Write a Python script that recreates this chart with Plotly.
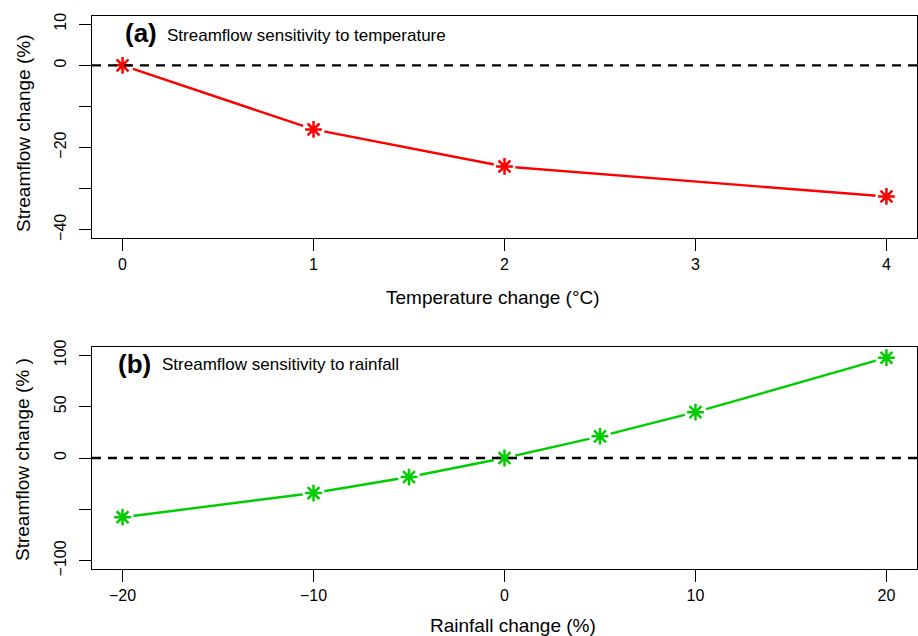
import plotly.graph_objects as go
from plotly.subplots import make_subplots

# Panel (a): temperature sensitivity
temp_change = [0, 1, 2, 4]
flow_temp = [0.0, -15.6, -24.6, -31.9]
temp_ticks = [0, 1, 2, 3, 4]
temp_yticks = [10, 0, -10, -20, -30, -40]
temp_yticklabels = ["10", "0", "", "\u221220", "", "\u221240"]

# Panel (b): rainfall sensitivity
rain_change = [-20, -10, -5, 0, 5, 10, 20]
flow_rain = [-57.6, -34.1, -18.5, 0.0, 21.1, 44.6, 97.6]
rain_ticks = [-20, -10, 0, 10, 20]
rain_ticklabels = ["\u221220", "\u221210", "0", "10", "20"]
rain_yticks = [100, 50, 0, -50, -100]
rain_yticklabels = ["100", "50", "0", "", "\u2212100"]

FONT = "Liberation Sans, Arial, Helvetica, sans-serif"
RED = "#FF0000"
GREEN = "#00CD00"

fig = make_subplots(rows=2, cols=1)

def add_series(x, y, color, row):
    fig.add_trace(go.Scatter(x=x, y=y, mode="lines", line=dict(color=color, width=2.4),
                             hoverinfo="skip", showlegend=False), row=row, col=1)
    # white discs to imitate R's type="b" gaps around points
    fig.add_trace(go.Scatter(x=x, y=y, mode="markers",
                             marker=dict(symbol="circle", size=22, color="white", line=dict(width=0)),
                             hoverinfo="skip", showlegend=False), row=row, col=1)
    fig.add_trace(go.Scatter(x=x, y=y, mode="markers",
                             marker=dict(symbol="asterisk-open", size=14, color=color,
                                         line=dict(color=color, width=2.5)),
                             showlegend=False), row=row, col=1)

add_series(temp_change, flow_temp, RED, 1)
add_series(rain_change, flow_rain, GREEN, 2)

# dashed zero lines (on top, like abline drawn after the points)
for r in (1, 2):
    fig.add_hline(y=0, line=dict(color="black", width=2.4, dash="9px,7px"),
                  layer="above", row=r, col=1)

axis_common = dict(showline=True, linecolor="black", linewidth=1.4, mirror=True,
                   ticks="outside", ticklen=12, tickwidth=1.4, tickcolor="black",
                   showgrid=False, zeroline=False,
                   tickfont=dict(family=FONT, size=16, color="black"))

fig.update_xaxes(**axis_common, range=[-0.16, 4.16], tickvals=temp_ticks,
                 ticktext=[str(t) for t in temp_ticks], row=1, col=1)
fig.update_yaxes(**axis_common, range=[-42, 12], tickvals=temp_yticks,
                 ticktext=temp_yticklabels, tickangle=-90, ticklabelstandoff=6, row=1, col=1)
fig.update_xaxes(**axis_common, range=[-21.6, 21.6], tickvals=rain_ticks,
                 ticktext=rain_ticklabels, row=2, col=1)
fig.update_yaxes(**axis_common, range=[-108, 108], tickvals=rain_yticks,
                 ticktext=rain_yticklabels, tickangle=-90, ticklabelstandoff=6, row=2, col=1)

fig.update_layout(
    width=918, height=636,
    margin=dict(l=92, r=1, t=16, b=67, autoexpand=False),
    paper_bgcolor="white", plot_bgcolor="white",
    font=dict(family=FONT, color="black"),
    xaxis=dict(domain=[0, 1]), yaxis=dict(domain=[0.5986, 1]),
    xaxis2=dict(domain=[0, 1]), yaxis2=dict(domain=[0, 0.4014]),
)

def px_to_paper_x(px):
    return (px - 92) / 825.0

def px_to_paper_y(py):
    return (569 - py) / 553.0

annos = [
    # panel labels
    dict(text="<b>(a)</b>", x=px_to_paper_x(123), y=px_to_paper_y(33), xanchor="left",
         yanchor="middle", font=dict(size=26)),
    dict(text="Streamflow sensitivity to temperature", x=px_to_paper_x(165), y=px_to_paper_y(35),
         xanchor="left", yanchor="middle", font=dict(size=17)),
    dict(text="<b>(b)</b>", x=px_to_paper_x(116), y=px_to_paper_y(364), xanchor="left",
         yanchor="middle", font=dict(size=26)),
    dict(text="Streamflow sensitivity to rainfall", x=px_to_paper_x(160), y=px_to_paper_y(364),
         xanchor="left", yanchor="middle", font=dict(size=17)),
    # axis titles
    dict(text="Temperature change (\u00b0C)", x=px_to_paper_x(493), y=px_to_paper_y(297),
         xanchor="center", yanchor="middle", font=dict(size=19)),
    dict(text="Rainfall change (%)", x=px_to_paper_x(513), y=px_to_paper_y(625),
         xanchor="center", yanchor="middle", font=dict(size=19)),
    dict(text="Streamflow change (%)", x=px_to_paper_x(23), y=px_to_paper_y(134),
         xanchor="center", yanchor="middle", textangle=-90, font=dict(size=19)),
    dict(text="Streamflow change (% )", x=px_to_paper_x(23), y=px_to_paper_y(460),
         xanchor="center", yanchor="middle", textangle=-90, font=dict(size=19)),
]
for a in annos:
    a.update(xref="paper", yref="paper", showarrow=False)
    fig.add_annotation(**a)

fig.write_html("out.html", config={"displayModeBar": False},
               post_script="document.body.style.margin='0';document.body.style.padding='0';")
